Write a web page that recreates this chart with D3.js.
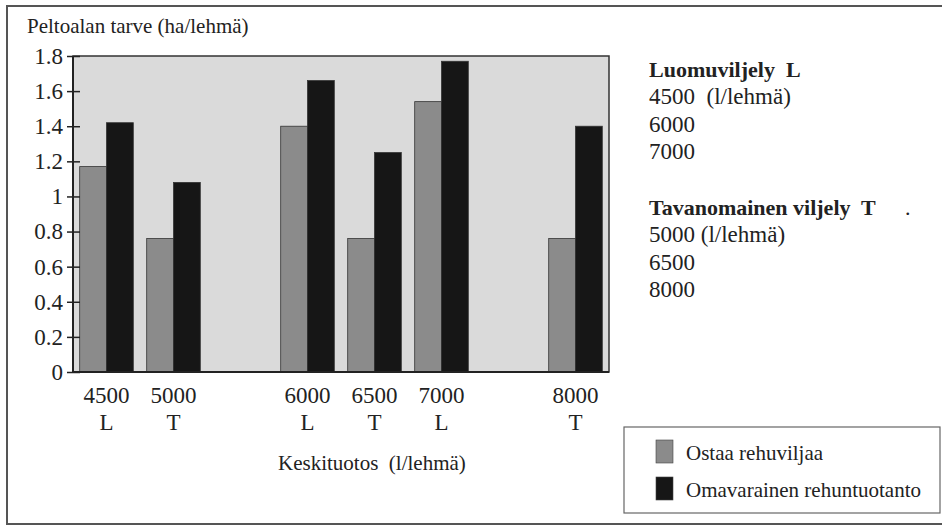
<!DOCTYPE html>
<html>
<head>
<meta charset="utf-8">
<script src="https://cdn.jsdelivr.net/npm/d3@7/dist/d3.min.js"></script>
<style>
  html, body { margin: 0; padding: 0; background: #fff; }
  svg { display: block; }
  text { font-family: "Liberation Serif", "DejaVu Serif", serif; fill: #222; white-space: pre; }
</style>
</head>
<body>
<svg id="chart" width="942" height="527"></svg>
<script>
// ---- data ----
const categories = [4500, 5000, 6000, 6500, 7000, 8000];
const systems = ["L", "T", "L", "T", "L", "T"];
const seriesNames = ["Ostaa rehuviljaa", "Omavarainen rehuntuotanto"];
const ostaa = [1.17, 0.76, 1.40, 0.76, 1.54, 0.76];
const omavarainen = [1.42, 1.08, 1.66, 1.25, 1.77, 1.40];
const slots = d3.range(4500, 8001, 500);
const yTicks = [0, 0.2, 0.4, 0.6, 0.8, 1, 1.2, 1.4, 1.6, 1.8];
const yTitle = "Peltoalan tarve (ha/lehmä)";
const xTitle = "Keskituotos  (l/lehmä)";
const noteL = ["Luomuviljely  L", "4500  (l/lehmä)", "6000", "7000"];
const noteT = ["Tavanomainen viljely  T", "5000 (l/lehmä)", "6500", "8000"];

const colors = ["#8b8b8b", "#161616"];

const svg = d3.select("#chart");

// outer frame
svg.append("rect").attr("x", 7).attr("y", 6).attr("width", 950).attr("height", 518)
  .attr("fill", "none").attr("stroke", "#555").attr("stroke-width", 2);

const pL = 73, pR = 609, pT = 56, pB = 372;

const x = d3.scaleBand().domain(slots).range([pL, pR]).paddingInner(0.2).paddingOuter(0.1);
const xs = d3.scaleBand().domain([0, 1]).range([0, x.bandwidth()]);
const y = d3.scaleLinear().domain([0, 1.8]).range([pB, pT]);

// plot background
svg.append("rect").attr("x", pL).attr("y", pT).attr("width", pR - pL).attr("height", pB - pT)
  .attr("fill", "#dadada").attr("stroke", "#333").attr("stroke-width", 1.5);

// bars
const rows = categories.map((c, i) => ({ c, vals: [ostaa[i], omavarainen[i]] }));
const g = svg.append("g");
rows.forEach(r => {
  r.vals.forEach((v, k) => {
    g.append("rect")
      .attr("x", x(r.c) + xs(k))
      .attr("y", y(v))
      .attr("width", xs.bandwidth())
      .attr("height", y(0) - y(v))
      .attr("fill", colors[k])
      .attr("stroke", "#333").attr("stroke-width", 0.8);
  });
});

// baseline
svg.append("line").attr("x1", pL).attr("x2", pR).attr("y1", pB).attr("y2", pB)
  .attr("stroke", "#222").attr("stroke-width", 2);

// y axis (ticks crossing the axis)
const yAxis = svg.append("g").attr("transform", `translate(${pL + 7},0)`)
  .call(d3.axisLeft(y).tickValues(yTicks).tickSize(13).tickPadding(4).tickFormat(d => String(d)));
yAxis.select(".domain").remove();
yAxis.selectAll(".tick line").attr("stroke", "#222").attr("stroke-width", 1.5);
yAxis.selectAll(".tick text").attr("font-size", 23).attr("font-family", "Liberation Serif").attr("fill", "#222");
svg.append("line").attr("x1", pL).attr("x2", pL).attr("y1", pT).attr("y2", pB)
  .attr("stroke", "#222").attr("stroke-width", 2);

// x labels
categories.forEach((c, i) => {
  const cx = x(c) + x.bandwidth() / 2;
  svg.append("text").attr("x", cx).attr("y", pB + 31).attr("text-anchor", "middle")
    .attr("font-size", 23).text(c);
  svg.append("text").attr("x", cx).attr("y", pB + 58).attr("text-anchor", "middle")
    .attr("font-size", 23).text(systems[i]);
});

// titles
svg.append("text").attr("x", 27).attr("y", 33).attr("font-size", 21).text(yTitle);
svg.append("text").attr("x", 278).attr("y", 470).attr("font-size", 21).text(xTitle);

// notes on right
noteL.forEach((t, i) => {
  svg.append("text").attr("x", 649).attr("y", 77 + i * 27.3)
    .attr("font-size", i === 0 ? 22 : 23).attr("font-weight", i === 0 ? "bold" : "normal").text(t);
});
noteT.forEach((t, i) => {
  svg.append("text").attr("x", 649).attr("y", 215 + i * 27.3)
    .attr("font-size", i === 0 ? 22 : 23).attr("font-weight", i === 0 ? "bold" : "normal").text(t);
});
svg.append("text").attr("x", 905).attr("y", 215).attr("font-size", 22).text(".");

// legend box
svg.append("rect").attr("x", 624).attr("y", 427).attr("width", 316).attr("height", 86)
  .attr("fill", "#fff").attr("stroke", "#666").attr("stroke-width", 1.2);
seriesNames.forEach((n, k) => {
  svg.append("rect").attr("x", 656).attr("y", 440 + k * 37).attr("width", 17).attr("height", 23)
    .attr("fill", colors[k]).attr("stroke", "#444").attr("stroke-width", 0.6);
  svg.append("text").attr("x", 686).attr("y", 460 + k * 37).attr("font-size", 21).text(n);
});
</script>
</body>
</html>
